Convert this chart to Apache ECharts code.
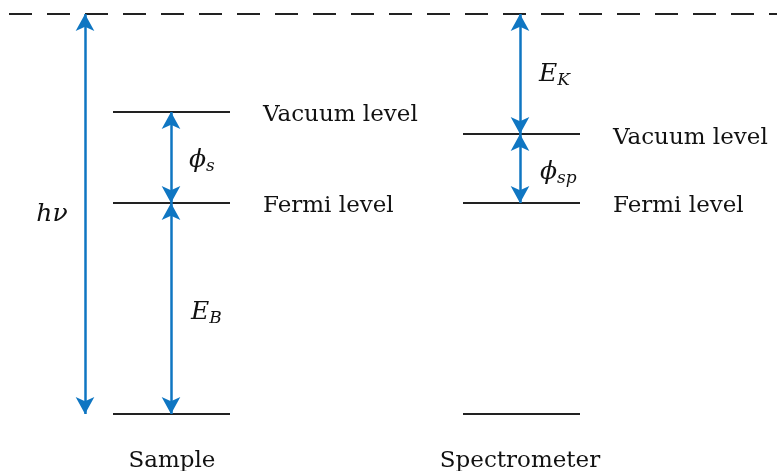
<!DOCTYPE html>
<html><head><meta charset="utf-8">
<script src="https://cdn.jsdelivr.net/npm/echarts@6/dist/echarts.min.js"></script>
<style>html,body{margin:0;padding:0;background:#fff}#c{width:777px;height:471px}</style>
</head><body><div id="c"></div>
<script>
// Energies (arbitrary units, core level = 0)
const photonEnergy = 10;
const fermiLevel = 5.275;
const sampleVacuum = 7.55;
const specVacuum = 7.0;
const coreLevel = 0;

// Horizontal extents of the columns (x units)
const sampleSpan = [113, 230];
const specSpan = [463, 580];
const dashSpan = [9, 777];

// Level segments: [xStart, xEnd, energy]
const levelSegments = [
  [sampleSpan[0], sampleSpan[1], sampleVacuum],
  [sampleSpan[0], sampleSpan[1], fermiLevel],
  [sampleSpan[0], sampleSpan[1], coreLevel],
  [specSpan[0], specSpan[1], specVacuum],
  [specSpan[0], specSpan[1], fermiLevel],
  [specSpan[0], specSpan[1], coreLevel]
];

// Arrows: [x, fromEnergy, toEnergy]
const arrowSegments = [
  [85, photonEnergy, coreLevel],
  [171, sampleVacuum, fermiLevel],
  [171, fermiLevel, coreLevel],
  [520, photonEnergy, specVacuum],
  [520, specVacuum, fermiLevel]
];

// Text labels: [x, energy, text, align]
const textLabels = [
  [263, 7.475, 'Vacuum level', 'left'],
  [263, 5.2, 'Fermi level', 'left'],
  [613, 6.89, 'Vacuum level', 'left'],
  [613, 5.2, 'Fermi level', 'left'],
  [172, -1.17, 'Sample', 'center'],
  [520, -1.17, 'Spectrometer', 'center'],
  [52, 5.0, '{m|hν}', 'center'],
  [189, 6.35, '{m|ϕ}{s|s}', 'left'],
  [191, 2.55, '{m|E}{s|B}', 'left'],
  [539, 8.5, '{m|E}{s|K}', 'left'],
  [540, 6.05, '{m|ϕ}{s|sp}', 'left']
];

const black = '#111111';
const blue = '#0f76c2';
const font = 'DejaVu Serif';

const chart = echarts.init(document.getElementById('c'), null, {renderer: 'canvas'});
chart.setOption({
  animation: false,
  backgroundColor: '#ffffff',
  grid: {left: 0, right: 0, top: 0, bottom: 0},
  xAxis: {type: 'value', min: 0, max: 777, show: false},
  yAxis: {type: 'value', min: -1.425, max: 10.35, show: false},
  series: [
    {
      type: 'lines', coordinateSystem: 'cartesian2d', silent: true,
      symbol: 'none',
      lineStyle: {color: '#222222', width: 2, type: [23, 15], opacity: 1},
      data: [{coords: [[dashSpan[0], photonEnergy], [dashSpan[1], photonEnergy]]}]
    },
    {
      type: 'lines', coordinateSystem: 'cartesian2d', silent: true,
      symbol: 'none',
      lineStyle: {color: '#222222', width: 2, opacity: 1},
      data: levelSegments.map(s => ({coords: [[s[0], s[2]], [s[1], s[2]]]}))
    },
    {
      type: 'lines', coordinateSystem: 'cartesian2d', silent: true,
      symbol: ['arrow', 'arrow'], symbolSize: [[14, 17], [14, 17]],
      lineStyle: {color: blue, width: 2.5, opacity: 1},
      itemStyle: {color: blue, opacity: 1},
      data: arrowSegments.map(a => ({coords: [[a[0], a[1]], [a[0], a[2]]]}))
    },
    {
      type: 'scatter', silent: true, symbolSize: 0,
      itemStyle: {opacity: 1},
      data: textLabels.map(t => ({
        value: [t[0], t[1]],
        label: {
          show: true, position: 'inside', formatter: t[2], align: t[3], opacity: 1,
          verticalAlign: 'middle', color: black, fontFamily: font, fontSize: 23,
          rich: {
            m: {fontFamily: font, fontStyle: 'italic', fontSize: 25, color: black},
            s: {fontFamily: font, fontStyle: 'italic', fontSize: 17, color: black, padding: [14, 0, 0, 0]}
          }
        }
      }))
    }
  ]
});
</script></body></html>
